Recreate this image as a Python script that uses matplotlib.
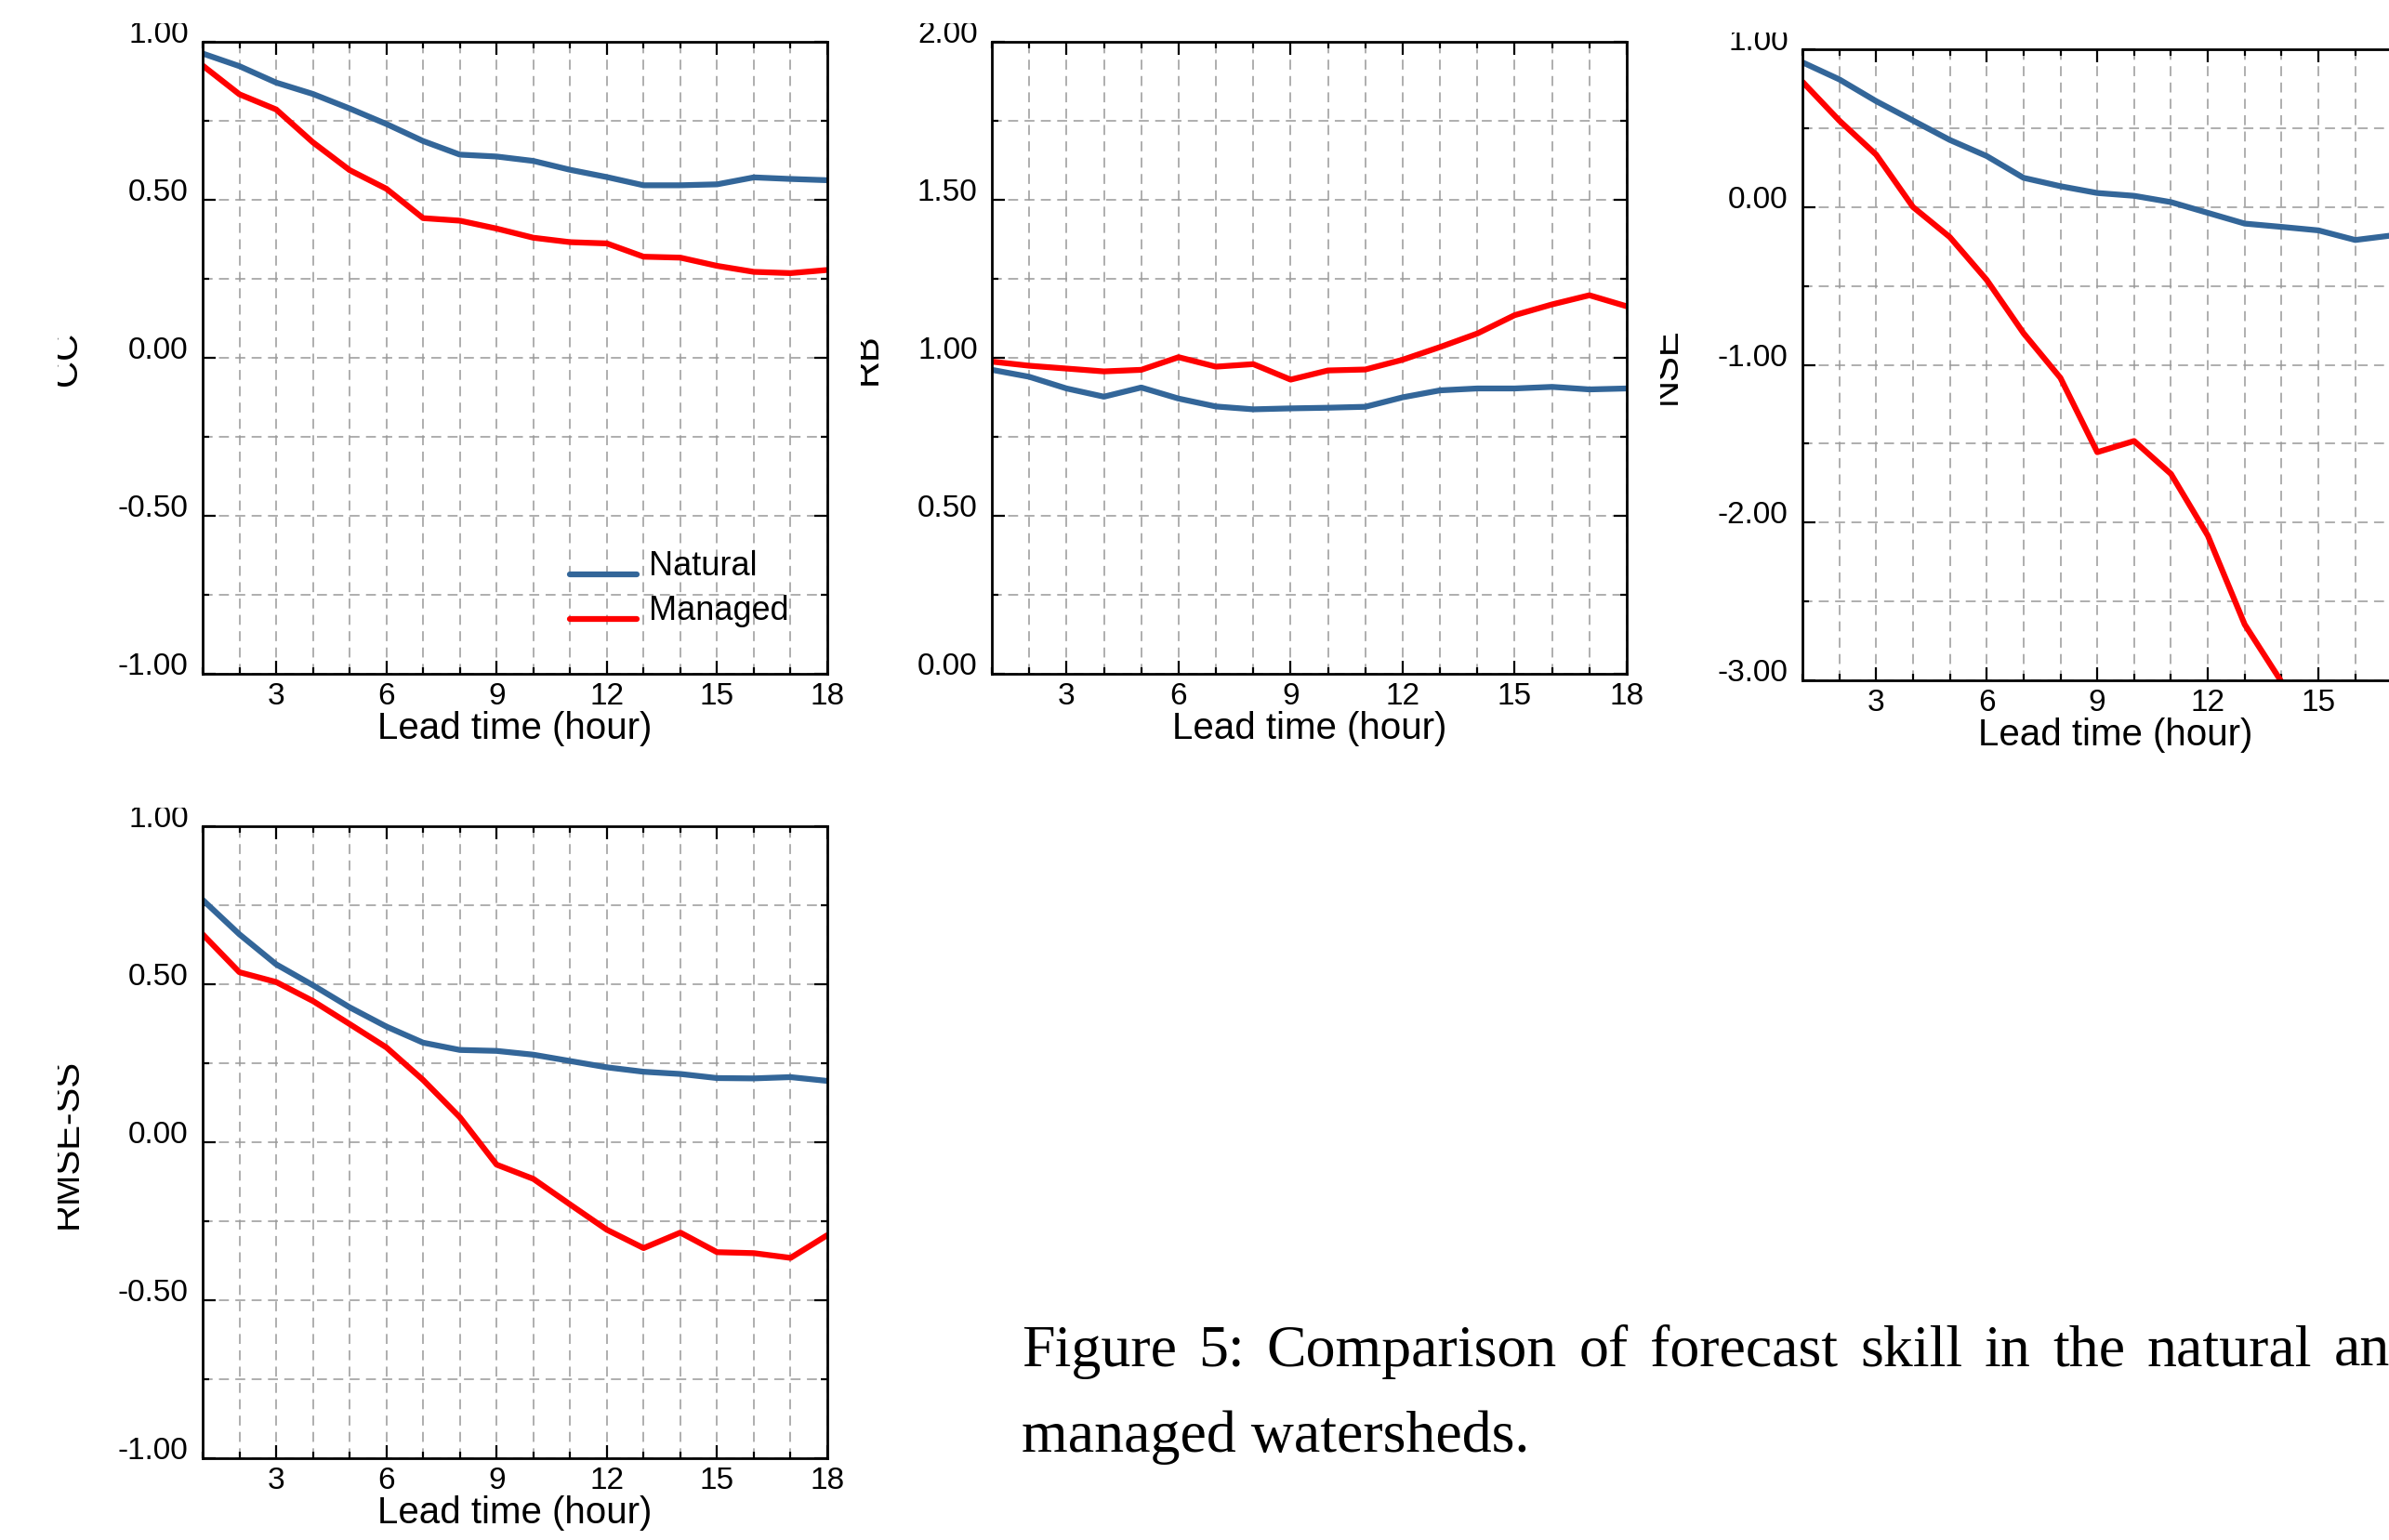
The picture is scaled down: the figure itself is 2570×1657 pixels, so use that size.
import matplotlib
matplotlib.use("Agg")
import matplotlib.pyplot as plt
from matplotlib.ticker import MultipleLocator, FormatStrFormatter
from matplotlib.transforms import Bbox, TransformedBbox
from matplotlib.legend_handler import HandlerLine2D

# lead times (hours)
lead = list(range(1, 19))

cc_natural = [0.963, 0.923, 0.871, 0.835, 0.789, 0.740, 0.686, 0.643, 0.637,
              0.623, 0.595, 0.572, 0.546, 0.546, 0.549, 0.571, 0.566, 0.562]
cc_managed = [0.925, 0.834, 0.786, 0.682, 0.594, 0.535, 0.442, 0.434, 0.409,
              0.380, 0.366, 0.362, 0.320, 0.317, 0.291, 0.272, 0.268, 0.278]

rb_natural = [0.962, 0.940, 0.903, 0.877, 0.906, 0.871, 0.846, 0.837, 0.840,
              0.842, 0.845, 0.875, 0.897, 0.903, 0.903, 0.908, 0.900, 0.903]
rb_managed = [0.988, 0.975, 0.966, 0.957, 0.962, 1.002, 0.972, 0.980, 0.931,
              0.960, 0.963, 0.994, 1.034, 1.077, 1.135, 1.169, 1.198, 1.163]

nse_natural = [0.917, 0.809, 0.671, 0.548, 0.425, 0.323, 0.185, 0.132, 0.089,
               0.071, 0.031, -0.037, -0.105, -0.126, -0.148, -0.209, -0.180, -0.170]
nse_managed = [0.794, 0.548, 0.332, 0.000, -0.191, -0.462, -0.800, -1.083, -1.554,
               -1.483, -1.692, -2.083, -2.646, -3.010, -3.400, -3.800, -4.100, -4.300]

rmse_natural = [0.767, 0.658, 0.563, 0.497, 0.427, 0.366, 0.315, 0.292, 0.289,
                0.277, 0.257, 0.237, 0.223, 0.216, 0.203, 0.202, 0.206, 0.194]
rmse_managed = [0.658, 0.538, 0.507, 0.447, 0.374, 0.300, 0.197, 0.079, -0.071,
                -0.116, -0.197, -0.277, -0.335, -0.286, -0.348, -0.351, -0.366, -0.294]

caption_line1 = "Figure 5: Comparison of forecast skill in the natural and"
caption_line2 = "managed watersheds."

BLUE = "#336699"
RED = "#ff0000"
W, H = 2570, 1658

plt.rcParams["font.family"] = ["Liberation Sans", "DejaVu Sans"]

fig = plt.figure(figsize=(W / 100, H / 100), dpi=100)


def px_axes(left, top, right, bottom):
    return fig.add_axes([left / W, 1 - bottom / H, (right - left) / W, (bottom - top) / H])


def clip_text(t, left, top):
    box = TransformedBbox(Bbox.from_extents(left / W, -1, 3, 1 - top / H), fig.transFigure)
    t.set_clip_box(box)
    t.set_clip_on(True)


class LowLine(HandlerLine2D):
    # legend line sits a bit below the text, as in the original
    def create_artists(self, legend, orig_handle, xdescent, ydescent, width, height, fontsize, trans):
        return super().create_artists(legend, orig_handle, xdescent, ydescent + 18,
                                      width, height, fontsize, trans)


def panel(ax, natural, managed, ylim, ymajor, yminor, ylabel, clip_left, clip_top, label_x):
    ax.plot(lead, natural, color=BLUE, lw=4.5, solid_capstyle="round", label="Natural")
    ax.plot(lead, managed, color=RED, lw=4.5, solid_capstyle="round", label="Managed")
    ax.set_xlim(1, 18)
    ax.set_ylim(*ylim)
    ax.xaxis.set_major_locator(MultipleLocator(3))
    ax.xaxis.set_minor_locator(MultipleLocator(1))
    ax.yaxis.set_major_locator(MultipleLocator(ymajor))
    ax.yaxis.set_minor_locator(MultipleLocator(yminor))
    ax.yaxis.set_major_formatter(FormatStrFormatter("%.2f"))
    ax.grid(True, which="both", color="#999999", lw=1.1, dashes=(7, 4.5))
    ax.set_axisbelow(True)
    ax.tick_params(which="both", direction="in", top=True, right=True, width=1.6, labelsize=24)
    ax.tick_params(which="major", length=10)
    ax.tick_params(which="minor", length=5)
    ax.tick_params(axis="y", pad=11)
    ax.tick_params(axis="x", pad=6)
    for s in ax.spines.values():
        s.set_linewidth(2.0)
    ax.set_xlabel("Lead time (hour)", fontsize=29, labelpad=0)
    ax.set_ylabel(ylabel, fontsize=29)
    ax.yaxis.set_label_coords(label_x, 0.5)
    clip_text(ax.yaxis.label, clip_left, clip_top)
    for tick in ax.yaxis.get_major_ticks():
        tick.label1.set_verticalalignment("baseline")
        clip_text(tick.label1, clip_left, clip_top)


ax1 = px_axes(218, 46, 890, 726)
panel(ax1, cc_natural, cc_managed, (-1, 1), 0.5, 0.25, "CC", 62, 26, -0.19)
ax1.legend(loc="center left", bbox_to_anchor=(0.588, 0.136), frameon=False, fontsize=26,
           handlelength=2.0, handletextpad=0.35, labelspacing=0.38, borderpad=0,
           borderaxespad=0, handler_map={plt.Line2D: LowLine()})

ax2 = px_axes(1067, 46, 1750, 726)
panel(ax2, rb_natural, rb_managed, (0, 2), 0.5, 0.25, "RB", 926, 26, -0.17)

ax3 = px_axes(1939, 54, 2613, 733)
panel(ax3, nse_natural, nse_managed, (-3, 1), 1.0, 0.5, "NSE", 1786, 36, -0.19)

ax4 = px_axes(218, 890, 890, 1570)
panel(ax4, rmse_natural, rmse_managed, (-1, 1), 0.5, 0.25, "RMSE-SS", 62, 870, -0.19)

# caption: first line is justified across the text column, second line is not
renderer = fig.canvas.get_renderer()
words = caption_line1.split()
col_left, col_right = 1099, 2603
texts = [fig.text(0, 1 - 1470 / H, w, family="Liberation Serif", fontsize=46,
                  va="baseline", ha="left") for w in words]
widths = [t.get_window_extent(renderer).width for t in texts]
gap = (col_right - col_left - sum(widths)) / (len(words) - 1)
x = col_left
for t, w in zip(texts, widths):
    t.set_x(x / W)
    x += w + gap
fig.text(col_left / W, 1 - 1562 / H, caption_line2, family="Liberation Serif", fontsize=46,
         va="baseline", ha="left")

fig.savefig("out.png", dpi=100)
